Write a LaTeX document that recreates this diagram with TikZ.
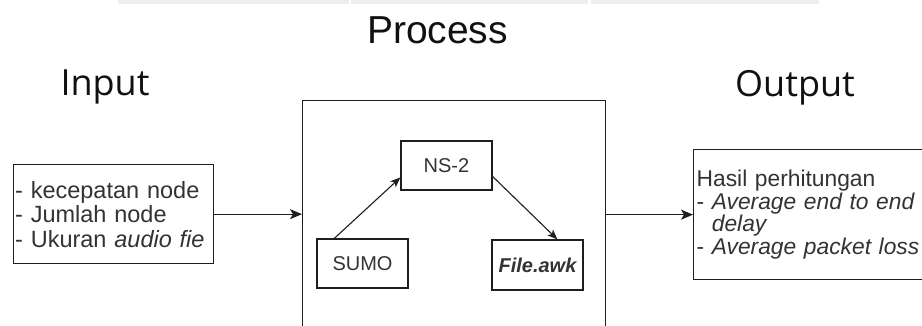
\documentclass[tikz,border=0pt]{standalone}
\usepackage{fontspec}
\setmainfont{Liberation Sans}
\newfontfamily\titlefont{Open Sans}
\usetikzlibrary{arrows.meta}
\definecolor{linec}{HTML}{1E1E1E}
\definecolor{textc}{HTML}{333333}
\definecolor{titlec}{HTML}{111111}
\definecolor{barc}{HTML}{EDEEF1}
\tikzset{
  box/.style={draw=linec, line width=1.3pt, fill=white},
  smallbox/.style={box, minimum width=91pt, minimum height=49pt, inner sep=0pt,
    font=\fontsize{20}{22}\selectfont, text=textc},
  bigarrow/.style={draw=linec, line width=1.3pt, -{Stealth[length=12pt,width=10pt,inset=3pt]}},
  smallarrow/.style={draw=linec, line width=1.1pt, -{Stealth[length=10pt,width=8pt,inset=2.5pt]}},
  title/.style={anchor=base, text=titlec, inner sep=0pt}
}
\begin{document}
\begin{tikzpicture}[x=1pt,y=-1pt]
\useasboundingbox (0,0) rectangle (922,325);
\clip (0,0) rectangle (922,325);
\fill[white] (0,0) rectangle (922,325);
% faint bars at the top
\fill[barc] (118,0) rectangle (349,4);
\fill[barc] (351,0) rectangle (588,4);
\fill[barc] (591,0) rectangle (819,4);
% titles
\node[title, font=\fontsize{39}{40}\selectfont] (ptitle) at (437.5,43) {Process};
\node[title, font=\titlefont\fontsize{36}{38}\selectfont] (ititle) at (105,95) {Input};
\node[title, font=\titlefont\fontsize{36}{38}\selectfont] (otitle) at (795,96) {Output};
% input box
\node[box, anchor=north west, text width=197pt, inner xsep=1.5pt, inner ysep=0pt,
  minimum height=99pt, align=left, text=textc, font=\fontsize{23.5}{24.5}\selectfont]
  (input) at (13,164) {- kecepatan node\\- Jumlah node\\- Ukuran \textit{audio fie}};
% process box
\node[box, anchor=north west, minimum width=303pt, minimum height=260pt, inner sep=0pt]
  (process) at (302,100) {};
\node[smallbox] (ns) at (446.5,165.5) {NS-2};
\node[smallbox] (sumo) at (362.5,263.5) {SUMO};
\node[smallbox, minimum height=50pt, font=\fontsize{20}{22}\selectfont\bfseries\itshape] (awk) at (537.5,265) {File.awk};
% output box
\node[box, anchor=north west, text width=250pt, inner xsep=3pt, inner ysep=0pt,
  minimum height=130pt, align=left, text=textc, font=\fontsize{22.8}{22.7}\selectfont]
  (output) at (693,149) {Hasil perhitungan\\- \textit{Average end to end}\\\phantom{- }\textit{delay}\\- \textit{Average packet loss}};
% connectors
\draw[bigarrow] (input.east) -- (input.east -| process.west);
\draw[bigarrow] (process.east |- output.west) -- (output.west);
\draw[smallarrow] ([xshift=18pt]sumo.north west) -- ([yshift=-12pt]ns.west);
\draw[smallarrow] ([yshift=-11pt]ns.east) -- ([xshift=66pt]awk.north west);
\end{tikzpicture}
\end{document}
